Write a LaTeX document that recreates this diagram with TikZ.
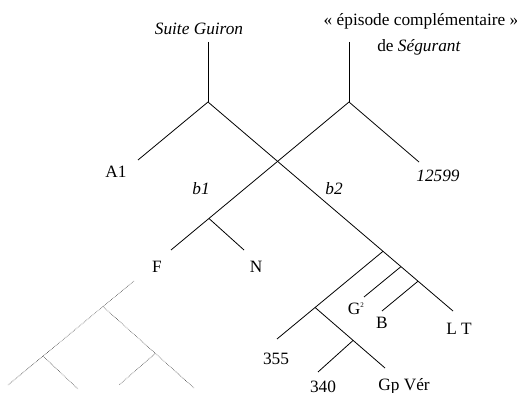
\documentclass[tikz,border=0pt]{standalone}
\usepackage{fontspec}
\setmainfont{Liberation Serif}
\begin{document}
\begin{tikzpicture}[x=1pt,y=-1pt,
  br/.style={draw=black,line width=0.8pt},
  dotbr/.style={draw=black!75,line width=0.6pt,densely dotted},
  lbl/.style={inner sep=0pt,anchor=base,font=\fontsize{17.3}{20}\selectfont}]
\useasboundingbox (0,0) rectangle (517,393);
% main tree coordinates
\coordinate (sgtop) at (208,42);
\coordinate (sgn) at (208,102);
\coordinate (a1e) at (138,160);
\coordinate (lte) at (453,311);
\coordinate (estop) at (349,42);
\coordinate (esn) at (349,102);
\coordinate (e12599) at (419,162);
\coordinate (fe) at (171,250);
\coordinate (b1n) at (209,218.5);
\coordinate (ne) at (244,250);
\coordinate (n1) at (383,251.3);
\coordinate (n2) at (401,266.6);
\coordinate (n3) at (418,281.2);
\coordinate (e355) at (277,339);
\coordinate (n4) at (315,307.4);
\coordinate (gpe) at (385,368);
\coordinate (n5) at (353,340.5);
\coordinate (e340) at (318,372);
\coordinate (ge) at (364,297);
\coordinate (be) at (382,311);
% dotted tree
\coordinate (dtop) at (134,281);
\coordinate (d1) at (103,306.6);
\coordinate (d2) at (43,356.1);
\coordinate (dle) at (8,385);
\coordinate (dre) at (194,388);
\coordinate (d3) at (155,353.7);
\coordinate (d3e) at (119,385);
\coordinate (d2e) at (78,389);
% branches
\draw[br] (sgtop) -- (sgn);
\draw[br] (sgn) -- (a1e);
\draw[br] (sgn) -- (lte);
\draw[br] (estop) -- (esn);
\draw[br] (esn) -- (e12599);
\draw[br] (esn) -- (fe);
\draw[br] (b1n) -- (ne);
\draw[br] (n1) -- (e355);
\draw[br] (n4) -- (gpe);
\draw[br] (n5) -- (e340);
\draw[br] (n2) -- (ge);
\draw[br] (n3) -- (be);
\draw[dotbr] (dtop) -- (dle);
\draw[dotbr] (d1) -- (dre);
\draw[dotbr] (d3) -- (d3e);
\draw[dotbr] (d2) -- (d2e);
% labels
\node[lbl] (tsg) at (199,35) {\itshape Suite Guiron};
\node[lbl] (tep) at (421,26) {« épisode complémentaire »};
\node[lbl] (tseg) at (419,52) {de \textit{Ségurant}};
\node[lbl] (ta1) at (116,178) {A1};
\node[lbl] (tb1) at (201,195) {\itshape b1};
\node[lbl] (tb2) at (334,194) {\itshape b2};
\node[lbl] (t12599) at (438,182) {\itshape 12599};
\node[lbl] (tf) at (157,272) {F};
\node[lbl] (tn) at (256,272) {N};
\node[lbl] (tg) at (356,314) {G\textsuperscript{\scriptsize 2}};
\node[lbl] (tbb) at (382,328) {B};
\node[lbl] (tlt) at (459,334) {L T};
\node[lbl] (t355) at (276,364) {355};
\node[lbl] (t340) at (323,392) {340};
\node[lbl] (tgp) at (404,390) {Gp Vér};
\end{tikzpicture}
\end{document}
